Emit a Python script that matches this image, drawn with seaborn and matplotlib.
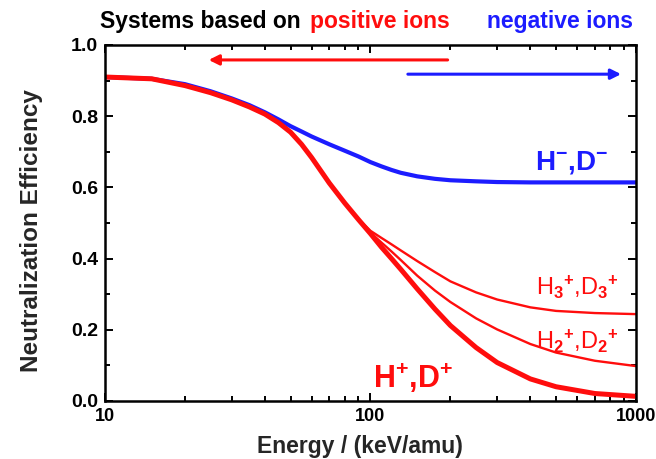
import numpy as np
import pandas as pd
import matplotlib
matplotlib.use("Agg")
import matplotlib.pyplot as plt
from matplotlib.ticker import MultipleLocator, LogLocator, NullFormatter, FixedLocator, FixedFormatter
import seaborn as sns

# energy grid (keV/amu) and efficiencies
energy = [10, 15, 20, 25, 30, 35, 40, 45, 50, 55, 60, 70, 80, 90, 100, 110, 120, 130,
          150, 175, 200, 250, 300, 400, 500, 700, 1000]
eff_neg = [0.910, 0.905, 0.890, 0.870, 0.850, 0.831, 0.811, 0.791, 0.772, 0.757, 0.743, 0.721,
           0.703, 0.687, 0.671, 0.659, 0.649, 0.641, 0.631, 0.624, 0.620, 0.617, 0.615, 0.614,
           0.614, 0.614, 0.614]
eff_h1 = [0.910, 0.905, 0.886, 0.866, 0.846, 0.826, 0.806, 0.782, 0.755, 0.721, 0.684, 0.612,
          0.556, 0.510, 0.470, 0.432, 0.400, 0.370, 0.315, 0.258, 0.212, 0.150, 0.108, 0.062,
          0.040, 0.021, 0.013]
eff_h2 = [0.910, 0.905, 0.886, 0.866, 0.846, 0.826, 0.806, 0.782, 0.755, 0.721, 0.684, 0.612,
          0.556, 0.511, 0.473, 0.445, 0.420, 0.396, 0.352, 0.310, 0.278, 0.232, 0.201, 0.160,
          0.136, 0.113, 0.098]
eff_h3 = [0.910, 0.905, 0.886, 0.866, 0.846, 0.826, 0.806, 0.782, 0.755, 0.721, 0.684, 0.612,
          0.557, 0.512, 0.478, 0.458, 0.440, 0.423, 0.393, 0.362, 0.336, 0.305, 0.285, 0.263,
          0.253, 0.247, 0.244]

RED = "#ff0d0d"
BLUE = "#1c1cff"

sns.set_theme(style="ticks")
plt.rcParams["font.family"] = ["Liberation Sans", "DejaVu Sans"]
plt.rcParams["font.weight"] = "bold"
plt.rcParams["mathtext.fontset"] = "custom"
plt.rcParams["mathtext.rm"] = "Liberation Sans"
plt.rcParams["mathtext.it"] = "Liberation Sans"
plt.rcParams["mathtext.bf"] = "Liberation Sans:bold"

fig = plt.figure(figsize=(6.56, 4.59), dpi=100)
ax = fig.add_axes([0.160, 0.1264, 0.8095, 0.7756])

df = pd.DataFrame({"E": energy, "neg": eff_neg, "h1": eff_h1, "h2": eff_h2, "h3": eff_h3})
sns.lineplot(data=df, x="E", y="h3", color=RED, lw=1.7, ax=ax)
sns.lineplot(data=df, x="E", y="h2", color=RED, lw=1.7, ax=ax)
sns.lineplot(data=df, x="E", y="neg", color=BLUE, lw=3.0, ax=ax)
sns.lineplot(data=df, x="E", y="h1", color=RED, lw=3.6, ax=ax)

ax.set_xscale("log")
ax.set_xlim(10, 1000)
ax.set_ylim(0, 1.0)
ax.xaxis.set_major_locator(FixedLocator([10, 100, 1000]))
ax.xaxis.set_major_formatter(FixedFormatter(["10", "100", "1000"]))
ax.xaxis.set_minor_locator(LogLocator(base=10, subs=np.arange(2, 10)))
ax.xaxis.set_minor_formatter(NullFormatter())
ax.yaxis.set_major_locator(MultipleLocator(0.2))
ax.yaxis.set_minor_locator(MultipleLocator(0.1))
ax.yaxis.set_major_formatter(plt.FormatStrFormatter("%.1f"))

ax.tick_params(which="both", direction="in", top=True, right=True, width=1.4, colors="black")
ax.tick_params(which="major", length=6, pad=5)
ax.tick_params(axis="y", which="major", labelsize=14)
ax.tick_params(axis="x", which="major", labelsize=13)
ax.tick_params(which="minor", length=3.5)
for t in ax.get_xticklabels() + ax.get_yticklabels():
    t.set_fontweight("bold")
for s in ax.spines.values():
    s.set_linewidth(1.8)
    s.set_color("black")

ax.set_xlabel("Energy / (keV/amu)", fontsize=16.5, fontweight="bold", labelpad=7)
ax.set_ylabel("Neutralization Efficiency", fontsize=17.5, fontweight="bold", labelpad=20)
ax.xaxis.set_label_coords(0.48, -0.095)
ax.yaxis.label.set_y(0.478)

# headline above the frame
fig.text(0.152, 0.953, "Systems based on", fontsize=16.5, fontweight="bold", color="black", va="center")
fig.text(0.472, 0.953, "positive ions", fontsize=16.5, fontweight="bold", color=RED, va="center")
fig.text(0.742, 0.953, "negative ions", fontsize=16.5, fontweight="bold", color=BLUE, va="center")

# direction arrows
ax.annotate("", xy=(24, 0.958), xytext=(200, 0.958),
            arrowprops=dict(arrowstyle="-|>", color=RED, lw=2.2, mutation_scale=15))
ax.annotate("", xy=(900, 0.918), xytext=(135, 0.918),
            arrowprops=dict(arrowstyle="-|>", color=BLUE, lw=2.2, mutation_scale=15))

# curve labels
ax.text(415, 0.670, r"H$^{\mathbf{-}}$,D$^{\mathbf{-}}$", color=BLUE, fontsize=20, fontweight="bold", va="center")
ax.text(102, 0.065, r"H$^{\mathbf{+}}$,D$^{\mathbf{+}}$", color=RED, fontsize=22, fontweight="bold", va="center")
ax.text(420, 0.318, r"H$_3$$^{\mathbf{+}}$,D$_3$$^{\mathbf{+}}$", color=RED, fontsize=17, fontweight="normal", va="center")
ax.text(420, 0.168, r"H$_2$$^{\mathbf{+}}$,D$_2$$^{\mathbf{+}}$", color=RED, fontsize=17, fontweight="normal", va="center")

fig.savefig("out.png", dpi=100)
